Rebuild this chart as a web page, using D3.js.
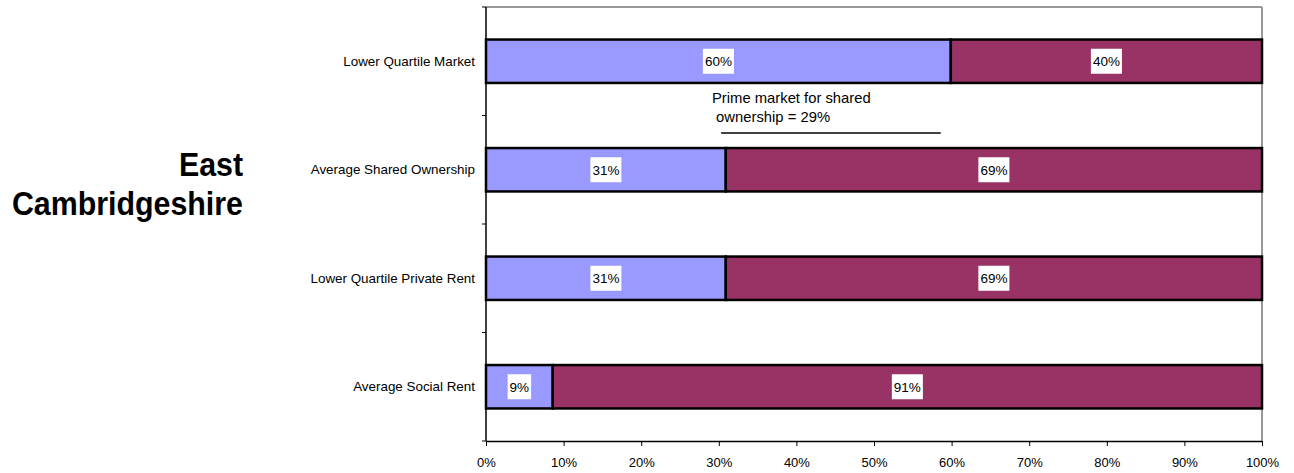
<!DOCTYPE html>
<html><head><meta charset="utf-8">
<script src="https://cdn.jsdelivr.net/npm/d3@7/dist/d3.min.js"></script>
<style>body{margin:0;background:#fff;}svg{display:block;font-family:"Liberation Sans",Arial,sans-serif;}</style>
</head><body><svg id="c" width="1294" height="473"></svg>
<script>
const categories = ["Lower Quartile Market","Average Shared Ownership","Lower Quartile Private Rent","Average Social Rent"];
const affordable = [59.9,30.9,30.9,8.6];
const unaffordable = [40.1,69.1,69.1,91.4];
const xTicks = [0,10,20,30,40,50,60,70,80,90,100];
const titleLines = ["East","Cambridgeshire"];
const annotationLines = ["Prime market for shared"," ownership = 29%"];
const annotationRange = [30.3,58.6];

const svg = d3.select("#c");
const L=486,R=1262,T=7,B=441;
const x = d3.scaleLinear().domain([0,100]).range([L,R]);
const y = d3.scaleBand().domain(categories).range([T,B]).paddingInner(0.6).paddingOuter(0.3);
const band = d3.scaleBand().domain(categories).range([T,B]);

// frame top/right gray
svg.append("line").attr("x1",L).attr("x2",R).attr("y1",T).attr("y2",T).attr("stroke","#999").attr("stroke-width",2);
svg.append("line").attr("x1",R).attr("x2",R).attr("y1",T).attr("y2",B).attr("stroke","#999").attr("stroke-width",2);

// bars
const rows = categories.map((c,i)=>({c,a:affordable[i],u:unaffordable[i]}));
const g = svg.append("g");
rows.forEach(d=>{
  const yy=y(d.c), h=y.bandwidth();
  g.append("rect").attr("x",x(0)).attr("y",yy).attr("width",x(d.a)-x(0)).attr("height",h).attr("fill","#9999FF").attr("stroke","#000").attr("stroke-width",2.5);
  g.append("rect").attr("x",x(d.a)).attr("y",yy).attr("width",x(d.a+d.u)-x(d.a)).attr("height",h).attr("fill","#993366").attr("stroke","#000").attr("stroke-width",2.5);
  [[0,d.a],[d.a,d.a+d.u]].forEach(([s,e])=>{
    const cx=(x(s)+x(e))/2, cy=yy+h/2;
    const t=g.append("text").attr("x",cx).attr("y",cy+4.8).attr("text-anchor","middle").attr("font-size",13.5).attr("fill","#000").text(Math.round(e-s)+"%");
    const bb=t.node().getBBox();
    g.insert("rect","text:last-child").attr("x",bb.x-2).attr("y",cy-12.5).attr("width",bb.width+4).attr("height",25).attr("fill","#fff");
    t.raise();
  });
});

// y axis
const yAxis = svg.append("g");
yAxis.append("line").attr("x1",L).attr("x2",L).attr("y1",T).attr("y2",B).attr("stroke","#000").attr("stroke-width",1.5);
const yt=[...categories.map(c=>band(c)),B];
yt.forEach(v=>yAxis.append("line").attr("x1",L-4).attr("x2",L).attr("y1",v).attr("y2",v).attr("stroke","#000"));
categories.forEach(c=>yAxis.append("text").attr("x",L-11).attr("y",y(c)+y.bandwidth()/2+4.7).attr("text-anchor","end").attr("font-size",13.4).text(c));

// x axis
const xa = svg.append("g").attr("transform",`translate(0,${B})`).call(d3.axisBottom(x).tickValues(xTicks).tickFormat(d=>d+"%").tickSize(5).tickPadding(12).tickSizeOuter(0));
xa.select(".domain").attr("stroke","#000").attr("stroke-width",1.5);
xa.selectAll("text").attr("font-size",13).attr("fill","#000").style("font-family","Liberation Sans, Arial, sans-serif");

// annotation
svg.append("text").attr("x",712).attr("y",103).attr("font-size",14.8).text(annotationLines[0]);
svg.append("text").attr("x",712).attr("y",122).attr("font-size",14.8).attr("xml:space","preserve").style("white-space","pre").text(annotationLines[1]);
svg.append("line").attr("x1",x(annotationRange[0])).attr("x2",x(annotationRange[1])).attr("y1",133).attr("y2",133).attr("stroke","#000").attr("stroke-width",1.5);

// title
const tg = svg.append("g").attr("transform","translate(243,0) scale(0.893,1)");
titleLines.forEach((t,i)=>tg.append("text").attr("x",0).attr("y",[176,215][i]).attr("text-anchor","end").attr("font-size",34).attr("font-weight","bold").text(t));
</script></body></html>
